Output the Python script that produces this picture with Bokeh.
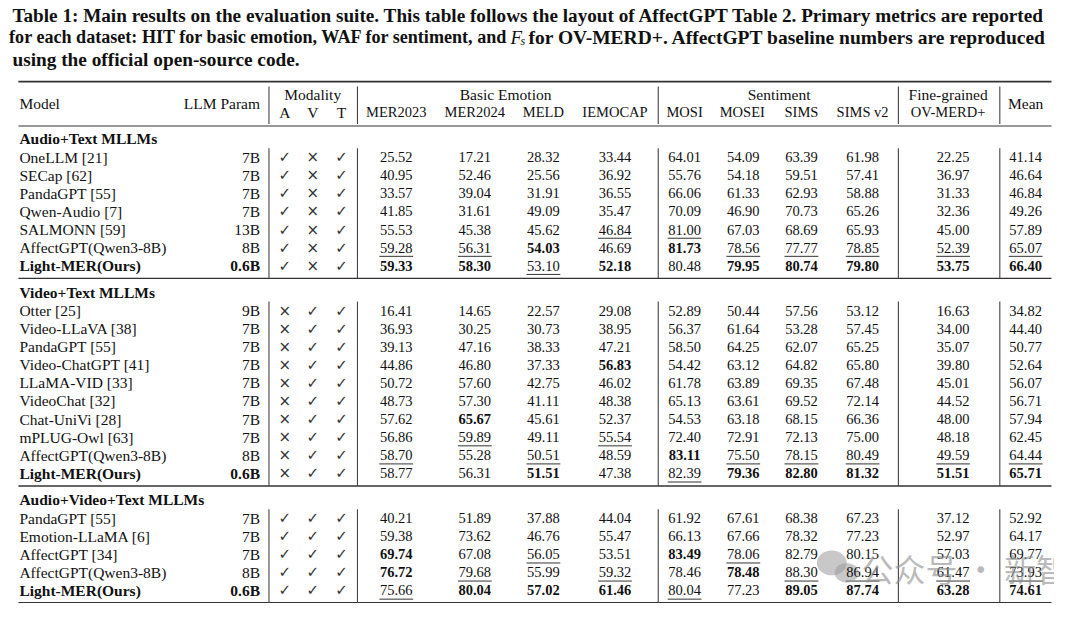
from bokeh.plotting import figure
from bokeh.models import Range1d, ColumnDataSource
from bokeh.core.properties import value
from bokeh.embed import file_html
from bokeh.resources import INLINE

# ---------------- data ----------------
caption_1 = "Table 1: Main results on the evaluation suite. This table follows the layout of AffectGPT Table 2. Primary metrics are reported"
caption_2a = "for each dataset: HIT for basic emotion, WAF for sentiment, and"
caption_2b = "for OV-MERD+. AffectGPT baseline numbers are reproduced"
caption_3 = "using the official open-source code."

groups = ["Audio+Text MLLMs", "Video+Text MLLMs", "Audio+Video+Text MLLMs"]
group_sizes = [7, 10, 5]
group_modality = [("✓", "×", "✓"), ("×", "✓", "✓"), ("✓", "✓", "✓")]

group_headers = ["Modality", "Basic Emotion", "Sentiment", "Fine-grained"]
metric_names = ["MER2023", "MER2024", "MELD", "IEMOCAP", "MOSI", "MOSEI", "SIMS", "SIMS v2", "OV-MERD+", "Mean"]

models = [
    "OneLLM [21]", "SECap [62]", "PandaGPT [55]", "Qwen-Audio [7]", "SALMONN [59]",
    "AffectGPT(Qwen3-8B)", "Light-MER(Ours)",
    "Otter [25]", "Video-LLaVA [38]", "PandaGPT [55]", "Video-ChatGPT [41]", "LLaMA-VID [33]",
    "VideoChat [32]", "Chat-UniVi [28]", "mPLUG-Owl [63]", "AffectGPT(Qwen3-8B)", "Light-MER(Ours)",
    "PandaGPT [55]", "Emotion-LLaMA [6]", "AffectGPT [34]", "AffectGPT(Qwen3-8B)", "Light-MER(Ours)",
]
llm_param = ["7B", "7B", "7B", "7B", "13B", "8B", "0.6B",
             "9B", "7B", "7B", "7B", "7B", "7B", "7B", "7B", "8B", "0.6B",
             "7B", "7B", "7B", "8B", "0.6B"]

mer2023 = [25.52, 40.95, 33.57, 41.85, 55.53, 59.28, 59.33,
           16.41, 36.93, 39.13, 44.86, 50.72, 48.73, 57.62, 56.86, 58.70, 58.77,
           40.21, 59.38, 69.74, 76.72, 75.66]
mer2024 = [17.21, 52.46, 39.04, 31.61, 45.38, 56.31, 58.30,
           14.65, 30.25, 47.16, 46.80, 57.60, 57.30, 65.67, 59.89, 55.28, 56.31,
           51.89, 73.62, 67.08, 79.68, 80.04]
meld = [28.32, 25.56, 31.91, 49.09, 45.62, 54.03, 53.10,
        22.57, 30.73, 38.33, 37.33, 42.75, 41.11, 45.61, 49.11, 50.51, 51.51,
        37.88, 46.76, 56.05, 55.99, 57.02]
iemocap = [33.44, 36.92, 36.55, 35.47, 46.84, 46.69, 52.18,
           29.08, 38.95, 47.21, 56.83, 46.02, 48.38, 52.37, 55.54, 48.59, 47.38,
           44.04, 55.47, 53.51, 59.32, 61.46]
mosi = [64.01, 55.76, 66.06, 70.09, 81.00, 81.73, 80.48,
        52.89, 56.37, 58.50, 54.42, 61.78, 65.13, 54.53, 72.40, 83.11, 82.39,
        61.92, 66.13, 83.49, 78.46, 80.04]
mosei = [54.09, 54.18, 61.33, 46.90, 67.03, 78.56, 79.95,
         50.44, 61.64, 64.25, 63.12, 63.89, 63.61, 63.18, 72.91, 75.50, 79.36,
         67.61, 67.66, 78.06, 78.48, 77.23]
sims = [63.39, 59.51, 62.93, 70.73, 68.69, 77.77, 80.74,
        57.56, 53.28, 62.07, 64.82, 69.35, 69.52, 68.15, 72.13, 78.15, 82.80,
        68.38, 78.32, 82.79, 88.30, 89.05]
sims_v2 = [61.98, 57.41, 58.88, 65.26, 65.93, 78.85, 79.80,
           53.12, 57.45, 65.25, 65.80, 67.48, 72.14, 66.36, 75.00, 80.49, 81.32,
           67.23, 77.23, 80.15, 86.94, 87.74]
ov_merd = [22.25, 36.97, 31.33, 32.36, 45.00, 52.39, 53.75,
           16.63, 34.00, 35.07, 39.80, 45.01, 44.52, 48.00, 48.18, 49.59, 51.51,
           37.12, 52.97, 57.03, 61.47, 63.28]
mean = [41.14, 46.64, 46.84, 49.26, 57.89, 65.07, 66.40,
        34.82, 44.40, 50.77, 52.64, 56.07, 56.71, 57.94, 62.45, 64.44, 65.71,
        52.92, 64.17, 69.77, 73.93, 74.61]

# b = best (bold), u = second best (underlined), - = plain
rank_marks = [
    "----------", "----------", "----------", "----------", "---uu-----", "uub-buuuuu", "bbub-bbbbb",
    "----------", "----------", "----------", "---b------", "----------", "----------", "-b--------",
    "-u-u------", "u-u-buuuuu", "--b-ubbbbb",
    "----------", "----------", "b-u-bu----", "bu-u-buuuu", "ubbbu-bbbb",
]
ours = "Light-MER(Ours)"
watermark = "公众号 · 新智元"

columns = [mer2023, mer2024, meld, iemocap, mosi, mosei, sims, sims_v2, ov_merd, mean]

# ---------------- layout ----------------
W, H = 1054, 603
p = figure(width=W, height=H, x_range=Range1d(0, 1060), y_range=Range1d(610, 0),
           output_backend="svg", toolbar_location=None, min_border=0,
           x_axis_location=None, y_axis_location=None)
p.grid.visible = False
p.outline_line_color = None
p.background_fill_color = "white"
p.border_fill_color = "white"

SERIF = "Liberation Serif"
FS = "14.5px"
NS = "15.5px"
texts = {}


def put(x, y, s, align="left", style="normal", size=FS, font=SERIF, color="#111111", alpha=1.0):
    key = (align, style, size, font, color, alpha)
    d = texts.setdefault(key, {"x": [], "y": [], "t": []})
    d["x"].append(x)
    d["y"].append(y)
    d["t"].append(s)


hl = {"x0": [], "x1": [], "y": [], "w": []}
vl = {"x": [], "y0": [], "y1": [], "w": []}


def hrule(y, w, x0=18, x1=1057):
    hl["x0"].append(x0); hl["x1"].append(x1); hl["y"].append(y); hl["w"].append(w)


def vrule(x, y0, y1, w=1.1):
    vl["x"].append(x); vl["y0"].append(y0); vl["y1"].append(y1); vl["w"].append(w)


# caption
put(12, 15, caption_1, style="bold", size="19.2px")
put(511, 37, caption_2a, align="right", style="bold", size="18.1px")
put(513, 37, "F", style="italic", size="19px")
put(523, 41, "s", style="italic", size="12px")
put(531, 37, caption_2b, style="bold", size="19.5px")
put(12, 59.5, caption_3, style="bold", size="19.3px")

# header
val_x = [398, 477, 546, 618, 688, 747, 805.5, 867, 958, 1031]
hdr_x = [398, 477, 546, 618, 688, 746, 805.5, 867, 953, 1031]
mod_x = [286, 314, 343]
hrule(82, 1.8)
hrule(127, 1.1)
put(19, 104, "Model", size=NS)
put(261, 104, "LLM Param", align="right", size=NS)
put(314, 95.5, group_headers[0], align="center", size=NS)
put(508, 95.5, group_headers[1], align="center", size=NS)
put(783, 95.5, group_headers[2], align="center", size=NS)
put(953, 95.5, group_headers[3], align="center", size=NS)
for x, s in zip(mod_x, ["A", "V", "T"]):
    put(x, 113, s, align="center", size=NS)
for i in range(9):
    put(hdr_x[i], 113, metric_names[i], align="center")
put(1031, 104, metric_names[9], align="center", size=NS)
v_lines_x = [270, 359, 661.5, 903, 1005]
for x in v_lines_x:
    vrule(x, 87, 125)

# body
PITCH = 18.3
title_y = 140.0
row = 0
for g, (gname, n) in enumerate(zip(groups, group_sizes)):
    put(19, title_y, gname, style="bold", size=NS)
    first = title_y + 18.5
    for k in range(n):
        y = first + k * PITCH
        name = models[row]
        is_ours = name == ours
        put(19, y, name, style="bold" if is_ours else "normal", size=NS)
        put(261, y, llm_param[row], align="right", style="bold" if is_ours else "normal", size=NS)
        for x, m in zip(mod_x, group_modality[g]):
            put(x, y, m, align="center", font="DejaVu Sans", size="15px", color="#333333")
        for c in range(10):
            v = columns[c][row]
            mk = rank_marks[row][c]
            put(val_x[c], y, f"{v:.2f}", align="center", style="bold" if mk == "b" else "normal")
            if mk == "u":
                hl["x0"].append(val_x[c] - 17); hl["x1"].append(val_x[c] + 17)
                hl["y"].append(y + 8.8); hl["w"].append(1.0)
        row += 1
    last = first + (n - 1) * PITCH
    rule_y = last + 12.8
    for x in v_lines_x:
        vrule(x, first - 9, rule_y)
    hrule(rule_y, 2.0 if g == len(groups) - 1 else 1.4)
    title_y = rule_y + 14

# rules
p.segment(x0="x0", y0="y", x1="x1", y1="y", line_width="w", line_color="#333333",
          source=ColumnDataSource(hl))
p.segment(x0="x", y0="y0", x1="x", y1="y1", line_width="w", line_color="#444444",
          source=ColumnDataSource(vl))

# watermark (semi-transparent, drawn over the table)
p.ellipse(x=[836, 851], y=[569, 579], width=[30, 24], height=[25, 20],
          fill_color="#9a9a9a", fill_alpha=0.55, line_color=None)
put(866, 574, watermark, size="32px", font="Noto Sans CJK SC", color="#8c8c8c", alpha=0.6)

for (align, style, size, font, color, alpha), d in texts.items():
    p.text(x="x", y="y", text="t", source=ColumnDataSource(d),
           text_align=align, text_baseline="middle", text_font=value(font),
           text_font_style=style, text_font_size=size, text_color=color, text_alpha=alpha)

open("out.html", "w").write(file_html(p, INLINE))
